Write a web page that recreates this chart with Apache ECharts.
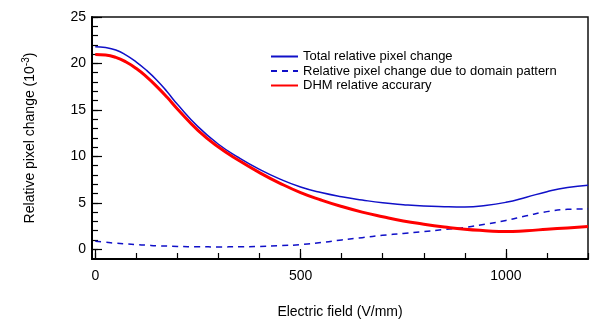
<!DOCTYPE html>
<html>
<head>
<meta charset="utf-8">
<script src="https://cdn.jsdelivr.net/npm/echarts@6/dist/echarts.min.js"></script>
<style>html,body{margin:0;padding:0;background:#fff}#c{width:601px;height:320px}</style>
</head>
<body>
<div id="c"></div>
<script>
const xValues = [0,25,50,75,100,125,150,175,200,250,300,350,400,450,500,550,600,650,700,750,800,850,900,950,1000,1050,1100,1150,1200];
const totalChange = [21.8,21.72,21.45,20.9,20.15,19.25,18.2,16.95,15.6,13.2,11.3,9.85,8.6,7.55,6.7,6.1,5.65,5.3,5.0,4.8,4.65,4.58,4.55,4.7,5.05,5.6,6.2,6.65,6.9];
const domainChange = [0.85,0.75,0.65,0.57,0.5,0.44,0.38,0.34,0.3,0.27,0.25,0.27,0.3,0.38,0.5,0.72,1.0,1.25,1.5,1.7,1.9,2.12,2.35,2.7,3.1,3.6,4.05,4.3,4.35];
const dhmAccuracy = [20.95,20.9,20.65,20.15,19.45,18.55,17.5,16.35,15.1,12.8,11.0,9.55,8.25,7.1,6.1,5.3,4.6,4.0,3.5,3.05,2.7,2.4,2.15,2.0,1.9,2.0,2.15,2.3,2.45];
const seriesNames = ['Total relative pixel change','Relative pixel change due to domain pattern','DHM relative accurary'];
const xMajorTicks = [0,500,1000];
const xMinorTicks = [0,100,200,300,400,500,600,700,800,900,1000,1100,1200];
const yMajorTicks = [0,5,10,15,20,25];
const yMinorTicks = [0,1,2,3,4,5,6,7,8,9,10,11,12,13,14,15,16,17,18,19,20,21,22,23,24,25];

const FONT = 'Liberation Sans, Arial, sans-serif';
const pair = arr => xValues.map((x,i)=>[x,arr[i]]);
const X_MIN = -8, X_MAX = 1200, Y_MIN = -1.05, Y_MAX = 25;

const chart = echarts.init(document.getElementById('c'), null, {renderer:'canvas'});
chart.setOption({
  animation:false,
  backgroundColor:'#fff',
  grid:{left:92,right:13,top:17,bottom:61,outerBoundsMode:'none',containLabel:false,
        show:true,borderColor:'#111',borderWidth:1.5,backgroundColor:'transparent'},
  legend:{
    orient:'vertical', left:270, top:50, padding:0, itemWidth:27, itemHeight:14, itemGap:1.5,
    itemStyle:{opacity:0, borderWidth:0},
    textStyle:{fontFamily:FONT,fontSize:13,color:'#000'},
    data:seriesNames
  },
  xAxis:[{
    type:'value', min:X_MIN, max:X_MAX,
    name:'Electric field (V/mm)', nameLocation:'middle', nameGap:46,
    nameTextStyle:{fontFamily:FONT,fontSize:14,color:'#000'},
    axisLine:{show:true,onZero:false,lineStyle:{color:'#000',width:2}},
    axisTick:{show:true,inside:true,length:10,customValues:xMajorTicks,lineStyle:{color:'#000',width:1.2}},
    axisLabel:{show:true,customValues:xMajorTicks,margin:10,fontFamily:FONT,fontSize:14,color:'#000',formatter:v=>String(v)},
    splitLine:{show:false}
  },{
    type:'value', min:X_MIN, max:X_MAX, position:'bottom',
    axisLine:{show:false,onZero:false},
    axisTick:{show:true,inside:true,length:6,customValues:xMinorTicks,lineStyle:{color:'#000',width:1.2}},
    axisLabel:{show:false,customValues:xMinorTicks},
    splitLine:{show:false}
  }],
  yAxis:[{
    type:'value', min:Y_MIN, max:Y_MAX,
    name:'{b|Relative pixel change (10}{s|-3}{b|)}', nameLocation:'middle', nameGap:52,
    nameTextStyle:{fontFamily:FONT,fontSize:14,color:'#000',
      rich:{b:{fontFamily:FONT,fontSize:14,color:'#000'},s:{fontFamily:FONT,fontSize:10,color:'#000',padding:[0,0,9,0]}}},
    axisLine:{show:true,onZero:false,lineStyle:{color:'#000',width:2}},
    axisTick:{show:true,inside:true,length:10,customValues:yMajorTicks,lineStyle:{color:'#000',width:1.2}},
    axisLabel:{show:true,customValues:yMajorTicks,margin:6,fontFamily:FONT,fontSize:14,color:'#000'},
    splitLine:{show:false}
  },{
    type:'value', min:Y_MIN, max:Y_MAX, position:'left',
    axisLine:{show:false,onZero:false},
    axisTick:{show:true,inside:true,length:6,customValues:yMinorTicks,lineStyle:{color:'#000',width:1.2}},
    axisLabel:{show:false,customValues:yMinorTicks},
    splitLine:{show:false}
  }],
  series:[
    {name:seriesNames[0],type:'line',smooth:0.5,symbol:'none',data:pair(totalChange),
     lineStyle:{color:'#1010c8',width:1.5},itemStyle:{color:'#1010c8'}},
    {name:seriesNames[1],type:'line',smooth:0.5,symbol:'none',data:pair(domainChange),
     lineStyle:{color:'#1010c8',width:1.5,type:[6,5]},itemStyle:{color:'#1010c8'}},
    {name:seriesNames[2],type:'line',smooth:0.5,symbol:'none',data:pair(dhmAccuracy),
     lineStyle:{color:'#ff0000',width:3},itemStyle:{color:'#ff0000'}}
  ]
});
</script>
</body>
</html>
